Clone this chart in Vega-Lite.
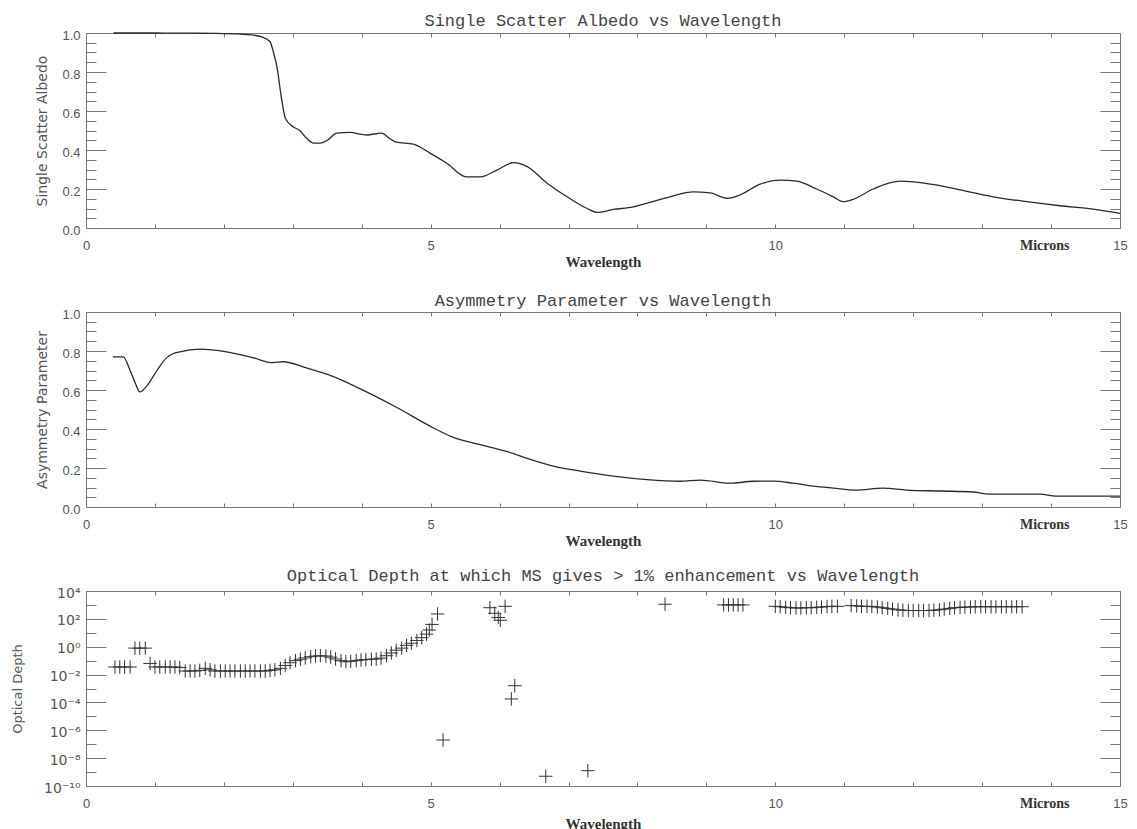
{
  "$schema": "https://vega.github.io/schema/vega-lite/v6.json",
  "padding": {"left": 10, "top": 11, "right": 5, "bottom": 0},
  "background": "white",
  "spacing": 84,
  "bounds": "flush",
  "config": {"view": {"stroke": "#777", "strokeWidth": 1}, "axis": {"grid": false}},
  "datasets": {
    "albedo": [
      {"wavelength": 0.4, "albedo": 1.0}, {"wavelength": 1.0, "albedo": 1.0}, {"wavelength": 1.3, "albedo": 0.999},
      {"wavelength": 1.6, "albedo": 0.999}, {"wavelength": 2.0, "albedo": 0.997}, {"wavelength": 2.2, "albedo": 0.995},
      {"wavelength": 2.4, "albedo": 0.99}, {"wavelength": 2.55, "albedo": 0.98}, {"wavelength": 2.67, "albedo": 0.955},
      {"wavelength": 2.72, "albedo": 0.9}, {"wavelength": 2.77, "albedo": 0.826}, {"wavelength": 2.84, "albedo": 0.656},
      {"wavelength": 2.89, "albedo": 0.564}, {"wavelength": 3.0, "albedo": 0.52}, {"wavelength": 3.1, "albedo": 0.5},
      {"wavelength": 3.2, "albedo": 0.46}, {"wavelength": 3.3, "albedo": 0.435}, {"wavelength": 3.4, "albedo": 0.435},
      {"wavelength": 3.5, "albedo": 0.45}, {"wavelength": 3.64, "albedo": 0.487}, {"wavelength": 3.83, "albedo": 0.49},
      {"wavelength": 4.0, "albedo": 0.48}, {"wavelength": 4.07, "albedo": 0.477}, {"wavelength": 4.29, "albedo": 0.487},
      {"wavelength": 4.4, "albedo": 0.46}, {"wavelength": 4.5, "albedo": 0.44}, {"wavelength": 4.75, "albedo": 0.43},
      {"wavelength": 4.99, "albedo": 0.384}, {"wavelength": 5.23, "albedo": 0.333}, {"wavelength": 5.52, "albedo": 0.262},
      {"wavelength": 5.72, "albedo": 0.262}, {"wavelength": 5.96, "albedo": 0.297}, {"wavelength": 6.2, "albedo": 0.335},
      {"wavelength": 6.4, "albedo": 0.315}, {"wavelength": 6.69, "albedo": 0.23}, {"wavelength": 6.98, "albedo": 0.16},
      {"wavelength": 7.27, "albedo": 0.1}, {"wavelength": 7.41, "albedo": 0.08}, {"wavelength": 7.65, "albedo": 0.095},
      {"wavelength": 7.94, "albedo": 0.108}, {"wavelength": 8.14, "albedo": 0.127}, {"wavelength": 8.47, "albedo": 0.16},
      {"wavelength": 8.81, "albedo": 0.185}, {"wavelength": 9.05, "albedo": 0.18}, {"wavelength": 9.31, "albedo": 0.152},
      {"wavelength": 9.49, "albedo": 0.17}, {"wavelength": 9.78, "albedo": 0.225}, {"wavelength": 10.07, "albedo": 0.246},
      {"wavelength": 10.31, "albedo": 0.24}, {"wavelength": 10.6, "albedo": 0.2}, {"wavelength": 10.84, "albedo": 0.16},
      {"wavelength": 10.98, "albedo": 0.135}, {"wavelength": 11.13, "albedo": 0.147}, {"wavelength": 11.42, "albedo": 0.2},
      {"wavelength": 11.81, "albedo": 0.24}, {"wavelength": 12.0, "albedo": 0.237}, {"wavelength": 12.35, "albedo": 0.22},
      {"wavelength": 12.68, "albedo": 0.195}, {"wavelength": 13.16, "albedo": 0.16}, {"wavelength": 13.65, "albedo": 0.135},
      {"wavelength": 14.13, "albedo": 0.114}, {"wavelength": 14.61, "albedo": 0.097}, {"wavelength": 15.0, "albedo": 0.075}
    ],
    "asymmetry": [
      {"wavelength": 0.39, "asymmetry": 0.77}, {"wavelength": 0.54, "asymmetry": 0.77}, {"wavelength": 0.64, "asymmetry": 0.7},
      {"wavelength": 0.71, "asymmetry": 0.64}, {"wavelength": 0.78, "asymmetry": 0.59}, {"wavelength": 0.88, "asymmetry": 0.62},
      {"wavelength": 1.03, "asymmetry": 0.7}, {"wavelength": 1.17, "asymmetry": 0.766}, {"wavelength": 1.36, "asymmetry": 0.796},
      {"wavelength": 1.65, "asymmetry": 0.81}, {"wavelength": 2.04, "asymmetry": 0.796}, {"wavelength": 2.42, "asymmetry": 0.766},
      {"wavelength": 2.71, "asymmetry": 0.74}, {"wavelength": 2.86, "asymmetry": 0.745}, {"wavelength": 3.2, "asymmetry": 0.713},
      {"wavelength": 3.58, "asymmetry": 0.67}, {"wavelength": 4.07, "asymmetry": 0.59}, {"wavelength": 4.51, "asymmetry": 0.51},
      {"wavelength": 4.99, "asymmetry": 0.415}, {"wavelength": 5.33, "asymmetry": 0.357}, {"wavelength": 5.72, "asymmetry": 0.32},
      {"wavelength": 6.1, "asymmetry": 0.285}, {"wavelength": 6.44, "asymmetry": 0.245}, {"wavelength": 6.78, "asymmetry": 0.21},
      {"wavelength": 7.17, "asymmetry": 0.184}, {"wavelength": 7.65, "asymmetry": 0.158}, {"wavelength": 8.14, "asymmetry": 0.14},
      {"wavelength": 8.62, "asymmetry": 0.132}, {"wavelength": 8.91, "asymmetry": 0.138}, {"wavelength": 9.34, "asymmetry": 0.122},
      {"wavelength": 9.68, "asymmetry": 0.132}, {"wavelength": 9.97, "asymmetry": 0.133}, {"wavelength": 10.26, "asymmetry": 0.122},
      {"wavelength": 10.55, "asymmetry": 0.107}, {"wavelength": 10.84, "asymmetry": 0.097}, {"wavelength": 11.17, "asymmetry": 0.087},
      {"wavelength": 11.56, "asymmetry": 0.097}, {"wavelength": 11.9, "asymmetry": 0.087}, {"wavelength": 12.39, "asymmetry": 0.082},
      {"wavelength": 12.87, "asymmetry": 0.077}, {"wavelength": 13.1, "asymmetry": 0.066}, {"wavelength": 13.84, "asymmetry": 0.066},
      {"wavelength": 14.07, "asymmetry": 0.056}, {"wavelength": 15.0, "asymmetry": 0.056}
    ],
    "depth": [
      {"wavelength": 0.42, "optical_depth": 0.035}, {"wavelength": 0.49, "optical_depth": 0.035}, {"wavelength": 0.56, "optical_depth": 0.035},
      {"wavelength": 0.64, "optical_depth": 0.035}, {"wavelength": 0.71, "optical_depth": 0.79}, {"wavelength": 0.78, "optical_depth": 0.79},
      {"wavelength": 0.86, "optical_depth": 0.79}, {"wavelength": 0.93, "optical_depth": 0.063}, {"wavelength": 1.0, "optical_depth": 0.035},
      {"wavelength": 1.07, "optical_depth": 0.035}, {"wavelength": 1.15, "optical_depth": 0.035}, {"wavelength": 1.22, "optical_depth": 0.035},
      {"wavelength": 1.29, "optical_depth": 0.035}, {"wavelength": 1.36, "optical_depth": 0.032}, {"wavelength": 1.44, "optical_depth": 0.018},
      {"wavelength": 1.51, "optical_depth": 0.018}, {"wavelength": 1.58, "optical_depth": 0.018}, {"wavelength": 1.65, "optical_depth": 0.02},
      {"wavelength": 1.73, "optical_depth": 0.028}, {"wavelength": 1.8, "optical_depth": 0.022}, {"wavelength": 1.87, "optical_depth": 0.018},
      {"wavelength": 1.95, "optical_depth": 0.018}, {"wavelength": 2.02, "optical_depth": 0.018}, {"wavelength": 2.09, "optical_depth": 0.018},
      {"wavelength": 2.16, "optical_depth": 0.018}, {"wavelength": 2.24, "optical_depth": 0.018}, {"wavelength": 2.31, "optical_depth": 0.018},
      {"wavelength": 2.38, "optical_depth": 0.018}, {"wavelength": 2.45, "optical_depth": 0.018}, {"wavelength": 2.53, "optical_depth": 0.018},
      {"wavelength": 2.6, "optical_depth": 0.018}, {"wavelength": 2.67, "optical_depth": 0.02}, {"wavelength": 2.74, "optical_depth": 0.022},
      {"wavelength": 2.82, "optical_depth": 0.028}, {"wavelength": 2.89, "optical_depth": 0.045}, {"wavelength": 2.96, "optical_depth": 0.071},
      {"wavelength": 3.04, "optical_depth": 0.1}, {"wavelength": 3.11, "optical_depth": 0.126}, {"wavelength": 3.18, "optical_depth": 0.158},
      {"wavelength": 3.26, "optical_depth": 0.19}, {"wavelength": 3.33, "optical_depth": 0.214}, {"wavelength": 3.4, "optical_depth": 0.224},
      {"wavelength": 3.48, "optical_depth": 0.214}, {"wavelength": 3.55, "optical_depth": 0.178}, {"wavelength": 3.62, "optical_depth": 0.132},
      {"wavelength": 3.7, "optical_depth": 0.1}, {"wavelength": 3.77, "optical_depth": 0.083}, {"wavelength": 3.84, "optical_depth": 0.089},
      {"wavelength": 3.92, "optical_depth": 0.1}, {"wavelength": 3.99, "optical_depth": 0.112}, {"wavelength": 4.06, "optical_depth": 0.12},
      {"wavelength": 4.14, "optical_depth": 0.126}, {"wavelength": 4.21, "optical_depth": 0.132}, {"wavelength": 4.28, "optical_depth": 0.151},
      {"wavelength": 4.36, "optical_depth": 0.224}, {"wavelength": 4.43, "optical_depth": 0.355}, {"wavelength": 4.5, "optical_depth": 0.562},
      {"wavelength": 4.58, "optical_depth": 0.794}, {"wavelength": 4.65, "optical_depth": 1.26}, {"wavelength": 4.72, "optical_depth": 1.78},
      {"wavelength": 4.8, "optical_depth": 2.82}, {"wavelength": 4.87, "optical_depth": 4.47}, {"wavelength": 4.94, "optical_depth": 7.94},
      {"wavelength": 4.98, "optical_depth": 15.8}, {"wavelength": 5.02, "optical_depth": 39.8}, {"wavelength": 5.1, "optical_depth": 224},
      {"wavelength": 5.18, "optical_depth": 2.0e-7}, {"wavelength": 5.86, "optical_depth": 631}, {"wavelength": 5.93, "optical_depth": 251},
      {"wavelength": 5.98, "optical_depth": 126}, {"wavelength": 6.01, "optical_depth": 79}, {"wavelength": 6.08, "optical_depth": 794},
      {"wavelength": 6.17, "optical_depth": 1.78e-4}, {"wavelength": 6.22, "optical_depth": 1.58e-3}, {"wavelength": 6.67, "optical_depth": 5.0e-10},
      {"wavelength": 7.28, "optical_depth": 1.26e-9}, {"wavelength": 8.4, "optical_depth": 1122},
      {"wavelength": 9.25, "optical_depth": 1000}, {"wavelength": 9.32, "optical_depth": 1000}, {"wavelength": 9.39, "optical_depth": 1000},
      {"wavelength": 9.46, "optical_depth": 1000}, {"wavelength": 9.53, "optical_depth": 1000},
      {"wavelength": 10.0, "optical_depth": 794}, {"wavelength": 10.07, "optical_depth": 741}, {"wavelength": 10.15, "optical_depth": 676},
      {"wavelength": 10.22, "optical_depth": 631}, {"wavelength": 10.3, "optical_depth": 603}, {"wavelength": 10.37, "optical_depth": 603},
      {"wavelength": 10.45, "optical_depth": 631}, {"wavelength": 10.52, "optical_depth": 631}, {"wavelength": 10.6, "optical_depth": 676},
      {"wavelength": 10.67, "optical_depth": 708}, {"wavelength": 10.75, "optical_depth": 759}, {"wavelength": 10.82, "optical_depth": 794},
      {"wavelength": 10.9, "optical_depth": 794},
      {"wavelength": 11.1, "optical_depth": 891}, {"wavelength": 11.18, "optical_depth": 851}, {"wavelength": 11.25, "optical_depth": 794},
      {"wavelength": 11.33, "optical_depth": 794}, {"wavelength": 11.4, "optical_depth": 759}, {"wavelength": 11.48, "optical_depth": 708},
      {"wavelength": 11.55, "optical_depth": 631}, {"wavelength": 11.63, "optical_depth": 562}, {"wavelength": 11.7, "optical_depth": 501},
      {"wavelength": 11.78, "optical_depth": 447}, {"wavelength": 11.85, "optical_depth": 417}, {"wavelength": 11.93, "optical_depth": 398},
      {"wavelength": 12.0, "optical_depth": 398}, {"wavelength": 12.08, "optical_depth": 398}, {"wavelength": 12.15, "optical_depth": 398},
      {"wavelength": 12.23, "optical_depth": 398}, {"wavelength": 12.3, "optical_depth": 417}, {"wavelength": 12.38, "optical_depth": 447},
      {"wavelength": 12.45, "optical_depth": 501}, {"wavelength": 12.53, "optical_depth": 562}, {"wavelength": 12.6, "optical_depth": 631},
      {"wavelength": 12.68, "optical_depth": 661}, {"wavelength": 12.75, "optical_depth": 708}, {"wavelength": 12.83, "optical_depth": 708},
      {"wavelength": 12.9, "optical_depth": 741}, {"wavelength": 12.98, "optical_depth": 741}, {"wavelength": 13.05, "optical_depth": 741},
      {"wavelength": 13.13, "optical_depth": 741}, {"wavelength": 13.2, "optical_depth": 741}, {"wavelength": 13.28, "optical_depth": 741},
      {"wavelength": 13.35, "optical_depth": 741}, {"wavelength": 13.43, "optical_depth": 741}, {"wavelength": 13.5, "optical_depth": 741},
      {"wavelength": 13.58, "optical_depth": 741}
    ]
  },
  "vconcat": [
    {
      "width": 1034, "height": 195,
      "title": {"text": "Single Scatter Albedo vs Wavelength", "font": "Liberation Mono", "fontSize": 17, "fontWeight": "normal", "color": "#444", "offset": -14, "baseline": "alphabetic", "frame": "group", "anchor": "middle"},
      "data": {"name": "albedo"},
      "layer": [
        {"mark": {"type": "line", "color": "#2a2a2a", "strokeWidth": 1.3, "interpolate": "monotone"},
         "encoding": {
           "x": {"field": "wavelength", "type": "quantitative", "scale": {"domain": [0, 15], "nice": false, "zero": false},
             "axis": {"orient": "bottom", "values": [0, 5, 10, 13.9, 15], "labelExpr": "datum.value == 13.9 ? 'Microns' : datum.label",
               "labelFont": {"condition": {"test": "datum.value == 13.9", "value": "Liberation Serif"}, "value": "Liberation Sans"},
               "labelFontWeight": {"condition": {"test": "datum.value == 13.9", "value": "bold"}, "value": "normal"},
               "labelFontSize": {"condition": {"test": "datum.value == 13.9", "value": 14}, "value": 13},
               "labelColor": {"condition": {"test": "datum.value == 13.9", "value": "#333"}, "value": "#555"},
               "labelBaseline": "middle", "labelPadding": 17, "labelFlush": false, "labelOverlap": false,
               "ticks": false, "tickSize": 0, "domain": false, "grid": false,
               "title": "Wavelength", "titleFont": "Liberation Serif", "titleFontWeight": "bold", "titleFontSize": 15, "titleColor": "#333", "titleY": 38, "titleBaseline": "alphabetic"}},
           "y": {"field": "albedo", "type": "quantitative", "scale": {"domain": [0, 1], "nice": false},
             "axis": {"orient": "left", "values": [0, 0.2, 0.4, 0.6, 0.8, 1], "format": ".1f", "ticks": false, "tickSize": 0, "domain": false, "grid": false,
               "labelFont": "Liberation Sans", "labelFontSize": 13, "labelColor": "#555", "labelPadding": 6, "labelFlush": true, "labelOffset": 2, "labelBaseline": "middle",
               "title": "Single Scatter Albedo", "titleFont": "DejaVu Sans", "titleFontSize": 14, "titleFontWeight": "normal", "titleColor": "#555",
               "titleX": -44, "titleY": 97.5, "titleAngle": -90, "titleBaseline": "middle", "titleAlign": "center"}}}},
        {"mark": {"type": "line", "opacity": 0},
         "encoding": {
           "x": {"field": "wavelength", "type": "quantitative", "axis": {"orient": "bottom", "values": [0,1,2,3,4,5,6,7,8,9,10,11,12,13,14,15], "labels": false, "domain": false, "grid": false, "tickSize": -4, "tickColor": "#777", "title": null}},
           "y": {"field": "albedo", "type": "quantitative", "axis": {"orient": "left", "values": [0, 0.2, 0.4, 0.6, 0.8, 1], "labels": false, "domain": false, "grid": false, "tickSize": -20, "tickColor": "#777", "title": null}}}},
        {"mark": {"type": "line", "opacity": 0},
         "encoding": {
           "x": {"field": "wavelength", "type": "quantitative", "axis": {"orient": "top", "values": [0,1,2,3,4,5,6,7,8,9,10,11,12,13,14,15], "labels": false, "domain": false, "grid": false, "tickSize": -4, "tickColor": "#777", "title": null}},
           "y": {"field": "albedo", "type": "quantitative", "axis": {"orient": "left", "values": [0.05,0.1,0.15,0.25,0.3,0.35,0.45,0.5,0.55,0.65,0.7,0.75,0.85,0.9,0.95], "labels": false, "domain": false, "grid": false, "tickSize": -10, "tickColor": "#777", "title": null}}}},
        {"mark": {"type": "line", "opacity": 0},
         "encoding": {
           "x": {"field": "wavelength", "type": "quantitative", "axis": null},
           "y": {"field": "albedo", "type": "quantitative", "axis": {"orient": "right", "values": [0, 0.2, 0.4, 0.6, 0.8, 1], "labels": false, "domain": false, "grid": false, "tickSize": -20, "tickColor": "#777", "title": null}}}},
        {"mark": {"type": "line", "opacity": 0},
         "encoding": {
           "x": {"field": "wavelength", "type": "quantitative", "axis": null},
           "y": {"field": "albedo", "type": "quantitative", "axis": {"orient": "right", "values": [0.05,0.1,0.15,0.25,0.3,0.35,0.45,0.5,0.55,0.65,0.7,0.75,0.85,0.9,0.95], "labels": false, "domain": false, "grid": false, "tickSize": -10, "tickColor": "#777", "title": null}}}}
      ],
      "resolve": {"axis": {"x": "independent", "y": "independent"}}
    },
    {
      "width": 1034, "height": 195,
      "title": {"text": "Asymmetry Parameter vs Wavelength", "font": "Liberation Mono", "fontSize": 17, "fontWeight": "normal", "color": "#444", "offset": -15, "baseline": "alphabetic", "frame": "group", "anchor": "middle"},
      "data": {"name": "asymmetry"},
      "layer": [
        {"mark": {"type": "line", "color": "#2a2a2a", "strokeWidth": 1.3, "interpolate": "monotone"},
         "encoding": {
           "x": {"field": "wavelength", "type": "quantitative", "scale": {"domain": [0, 15], "nice": false, "zero": false},
             "axis": {"orient": "bottom", "values": [0, 5, 10, 13.9, 15], "labelExpr": "datum.value == 13.9 ? 'Microns' : datum.label",
               "labelFont": {"condition": {"test": "datum.value == 13.9", "value": "Liberation Serif"}, "value": "Liberation Sans"},
               "labelFontWeight": {"condition": {"test": "datum.value == 13.9", "value": "bold"}, "value": "normal"},
               "labelFontSize": {"condition": {"test": "datum.value == 13.9", "value": 14}, "value": 13},
               "labelColor": {"condition": {"test": "datum.value == 13.9", "value": "#333"}, "value": "#555"},
               "labelBaseline": "middle", "labelPadding": 17, "labelFlush": false, "labelOverlap": false,
               "ticks": false, "tickSize": 0, "domain": false, "grid": false,
               "title": "Wavelength", "titleFont": "Liberation Serif", "titleFontWeight": "bold", "titleFontSize": 15, "titleColor": "#333", "titleY": 38, "titleBaseline": "alphabetic"}},
           "y": {"field": "asymmetry", "type": "quantitative", "scale": {"domain": [0, 1], "nice": false},
             "axis": {"orient": "left", "values": [0, 0.2, 0.4, 0.6, 0.8, 1], "format": ".1f", "ticks": false, "tickSize": 0, "domain": false, "grid": false,
               "labelFont": "Liberation Sans", "labelFontSize": 13, "labelColor": "#555", "labelPadding": 6, "labelFlush": true, "labelOffset": 2, "labelBaseline": "middle",
               "title": "Asymmetry Parameter", "titleFont": "DejaVu Sans", "titleFontSize": 14, "titleFontWeight": "normal", "titleColor": "#555",
               "titleX": -44, "titleY": 97.5, "titleAngle": -90, "titleBaseline": "middle", "titleAlign": "center"}}}},
        {"mark": {"type": "line", "opacity": 0},
         "encoding": {
           "x": {"field": "wavelength", "type": "quantitative", "axis": {"orient": "bottom", "values": [0,1,2,3,4,5,6,7,8,9,10,11,12,13,14,15], "labels": false, "domain": false, "grid": false, "tickSize": -4, "tickColor": "#777", "title": null}},
           "y": {"field": "asymmetry", "type": "quantitative", "axis": {"orient": "left", "values": [0, 0.2, 0.4, 0.6, 0.8, 1], "labels": false, "domain": false, "grid": false, "tickSize": -20, "tickColor": "#777", "title": null}}}},
        {"mark": {"type": "line", "opacity": 0},
         "encoding": {
           "x": {"field": "wavelength", "type": "quantitative", "axis": {"orient": "top", "values": [0,1,2,3,4,5,6,7,8,9,10,11,12,13,14,15], "labels": false, "domain": false, "grid": false, "tickSize": -4, "tickColor": "#777", "title": null}},
           "y": {"field": "asymmetry", "type": "quantitative", "axis": {"orient": "left", "values": [0.05,0.1,0.15,0.25,0.3,0.35,0.45,0.5,0.55,0.65,0.7,0.75,0.85,0.9,0.95], "labels": false, "domain": false, "grid": false, "tickSize": -10, "tickColor": "#777", "title": null}}}},
        {"mark": {"type": "line", "opacity": 0},
         "encoding": {
           "x": {"field": "wavelength", "type": "quantitative", "axis": null},
           "y": {"field": "asymmetry", "type": "quantitative", "axis": {"orient": "right", "values": [0, 0.2, 0.4, 0.6, 0.8, 1], "labels": false, "domain": false, "grid": false, "tickSize": -20, "tickColor": "#777", "title": null}}}},
        {"mark": {"type": "line", "opacity": 0},
         "encoding": {
           "x": {"field": "wavelength", "type": "quantitative", "axis": null},
           "y": {"field": "asymmetry", "type": "quantitative", "axis": {"orient": "right", "values": [0.05,0.1,0.15,0.25,0.3,0.35,0.45,0.5,0.55,0.65,0.7,0.75,0.85,0.9,0.95], "labels": false, "domain": false, "grid": false, "tickSize": -10, "tickColor": "#777", "title": null}}}}
      ],
      "resolve": {"axis": {"x": "independent", "y": "independent"}}
    },
    {
      "width": 1034, "height": 195,
      "title": {"text": "Optical Depth at which MS gives > 1% enhancement vs Wavelength", "font": "Liberation Mono", "fontSize": 17, "fontWeight": "normal", "color": "#444", "offset": -12, "baseline": "alphabetic", "frame": "group", "anchor": "middle"},
      "data": {"name": "depth"},
      "layer": [
        {"mark": {"type": "point", "shape": "M-1,0L1,0M0,-1L0,1", "size": 180, "filled": false, "stroke": "#333", "strokeWidth": 1, "opacity": 1},
         "encoding": {
           "x": {"field": "wavelength", "type": "quantitative", "scale": {"domain": [0, 15], "nice": false, "zero": false},
             "axis": {"orient": "bottom", "values": [0, 5, 10, 13.9, 15], "labelExpr": "datum.value == 13.9 ? 'Microns' : datum.label",
               "labelFont": {"condition": {"test": "datum.value == 13.9", "value": "Liberation Serif"}, "value": "Liberation Sans"},
               "labelFontWeight": {"condition": {"test": "datum.value == 13.9", "value": "bold"}, "value": "normal"},
               "labelFontSize": {"condition": {"test": "datum.value == 13.9", "value": 14}, "value": 13},
               "labelColor": {"condition": {"test": "datum.value == 13.9", "value": "#333"}, "value": "#555"},
               "labelBaseline": "middle", "labelPadding": 17, "labelFlush": false, "labelOverlap": false,
               "ticks": false, "tickSize": 0, "domain": false, "grid": false,
               "title": "Wavelength", "titleFont": "Liberation Serif", "titleFontWeight": "bold", "titleFontSize": 15, "titleColor": "#333", "titleY": 42, "titleBaseline": "alphabetic"}},
           "y": {"field": "optical_depth", "type": "quantitative", "scale": {"type": "log", "domain": [1e-10, 10000], "nice": false},
             "axis": {"orient": "left", "values": [10000, 100, 1, 0.01, 0.0001, 1e-6, 1e-8, 1e-10],
               "labelExpr": "round(log(datum.value)/LN10) == 4 ? '10⁴' : round(log(datum.value)/LN10) == 2 ? '10²' : round(log(datum.value)/LN10) == 0 ? '10⁰' : round(log(datum.value)/LN10) == -2 ? '10⁻²' : round(log(datum.value)/LN10) == -4 ? '10⁻⁴' : round(log(datum.value)/LN10) == -6 ? '10⁻⁶' : round(log(datum.value)/LN10) == -8 ? '10⁻⁸' : '10⁻¹⁰'",
               "ticks": false, "tickSize": 0, "domain": false, "grid": false, "labelOverlap": false,
               "labelFont": "DejaVu Sans", "labelFontSize": 14, "labelColor": "#555", "labelPadding": 6, "labelFlush": true, "labelOffset": 2, "labelBaseline": "middle",
               "title": "Optical Depth", "titleFont": "DejaVu Sans", "titleFontSize": 13, "titleFontWeight": "normal", "titleColor": "#555",
               "titleX": -69, "titleY": 97.5, "titleAngle": -90, "titleBaseline": "middle", "titleAlign": "center"}}}},
        {"mark": {"type": "point", "opacity": 0},
         "encoding": {
           "x": {"field": "wavelength", "type": "quantitative", "axis": {"orient": "bottom", "values": [0,1,2,3,4,5,6,7,8,9,10,11,12,13,14,15], "labels": false, "domain": false, "grid": false, "tickSize": -4, "tickColor": "#777", "title": null}},
           "y": {"field": "optical_depth", "type": "quantitative", "axis": {"orient": "left", "values": [10000, 100, 1, 0.01, 0.0001, 1e-6, 1e-8, 1e-10], "labels": false, "domain": false, "grid": false, "tickSize": -20, "tickColor": "#777", "title": null}}}},
        {"mark": {"type": "point", "opacity": 0},
         "encoding": {
           "x": {"field": "wavelength", "type": "quantitative", "axis": {"orient": "top", "values": [0,1,2,3,4,5,6,7,8,9,10,11,12,13,14,15], "labels": false, "domain": false, "grid": false, "tickSize": -4, "tickColor": "#777", "title": null}},
           "y": {"field": "optical_depth", "type": "quantitative", "axis": {"orient": "left", "values": [1000, 10, 0.1, 0.001, 1e-5, 1e-7, 1e-9], "labels": false, "domain": false, "grid": false, "tickSize": -10, "tickColor": "#777", "title": null}}}},
        {"mark": {"type": "point", "opacity": 0},
         "encoding": {
           "x": {"field": "wavelength", "type": "quantitative", "axis": null},
           "y": {"field": "optical_depth", "type": "quantitative", "axis": {"orient": "right", "values": [10000, 100, 1, 0.01, 0.0001, 1e-6, 1e-8, 1e-10], "labels": false, "domain": false, "grid": false, "tickSize": -20, "tickColor": "#777", "title": null}}}},
        {"mark": {"type": "point", "opacity": 0},
         "encoding": {
           "x": {"field": "wavelength", "type": "quantitative", "axis": null},
           "y": {"field": "optical_depth", "type": "quantitative", "axis": {"orient": "right", "values": [1000, 10, 0.1, 0.001, 1e-5, 1e-7, 1e-9], "labels": false, "domain": false, "grid": false, "tickSize": -10, "tickColor": "#777", "title": null}}}}
      ],
      "resolve": {"axis": {"x": "independent", "y": "independent"}}
    }
  ]
}
